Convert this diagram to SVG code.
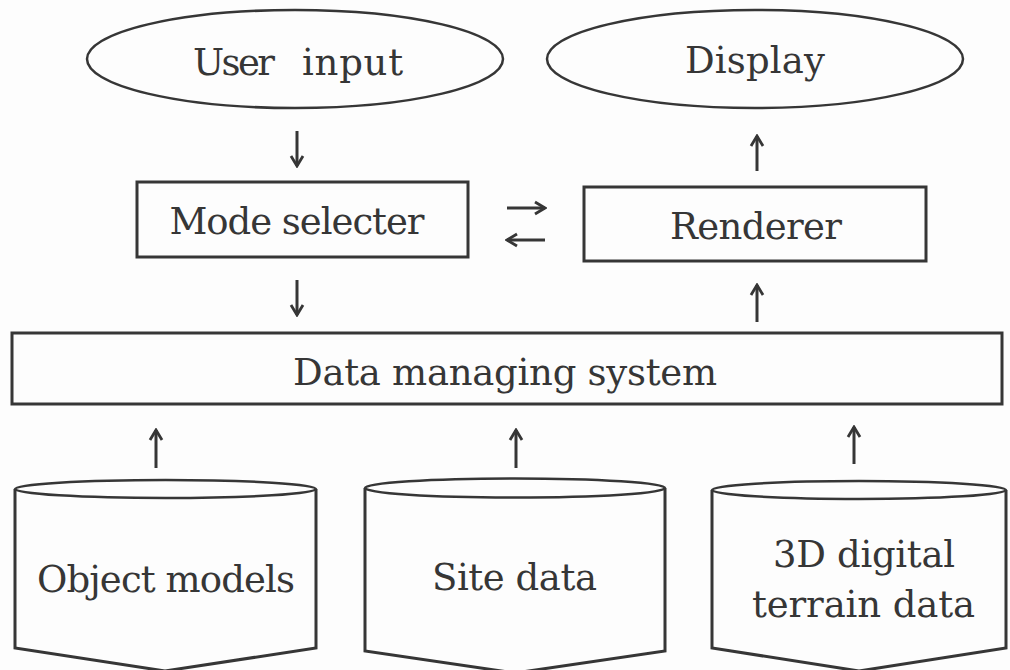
<svg xmlns="http://www.w3.org/2000/svg" width="1010" height="670" viewBox="0 0 1010 670">
<defs>
<style>
.sh{fill:none;stroke:#363636;stroke-width:3}
.el{fill:none;stroke:#363636;stroke-width:2.5}
.tx{font-family:"DejaVu Serif","Liberation Serif",serif;font-size:37px;fill:#363636;text-anchor:middle}
.st{text-anchor:start}
.ar{stroke:#363636;stroke-width:3;fill:none;marker-end:url(#head)}
</style>
<marker id="head" markerUnits="userSpaceOnUse" viewBox="-12 -8 14 16" markerWidth="14" markerHeight="16" refX="0" refY="0" orient="auto">
<path d="M-10,-6 L0,0 L-10,6" fill="none" stroke="#363636" stroke-width="2.8" stroke-linejoin="miter"/>
</marker>
</defs>
<rect width="1010" height="670" fill="#fdfdfd"/>
<g id="user-input">
<ellipse class="el" cx="295" cy="59" rx="208" ry="49"/>
<text class="tx st" y="75"><tspan x="193" textLength="82" lengthAdjust="spacing">User</tspan> <tspan x="302" textLength="101" lengthAdjust="spacing">input</tspan></text>
</g>
<g id="display">
<ellipse class="el" cx="755" cy="59" rx="208" ry="49"/>
<text class="tx" x="755" y="73" textLength="140" lengthAdjust="spacing">Display</text>
</g>
<g id="mode-selecter">
<rect class="sh" x="137" y="182" width="331" height="75"/>
<text class="tx" x="297" y="234" textLength="255" lengthAdjust="spacing">Mode selecter</text>
</g>
<g id="renderer">
<rect class="sh" x="584" y="187" width="342" height="74"/>
<text class="tx" x="756" y="239" textLength="172" lengthAdjust="spacing">Renderer</text>
</g>
<g id="data-managing-system">
<rect class="sh" x="12" y="333" width="990" height="71"/>
<text class="tx" x="505" y="385" textLength="424" lengthAdjust="spacing">Data managing system</text>
</g>
<g id="object-models">
<path class="sh" d="M15,489 L15,648 L165,671 L316,648 L316,489"/>
<ellipse class="el" cx="165.5" cy="489" rx="150.5" ry="9"/>
<text class="tx" x="166" y="592" textLength="258" lengthAdjust="spacing">Object models</text>
</g>
<g id="site-data">
<path class="sh" d="M365,488 L365,651 L515,673 L665,651 L665,488"/>
<ellipse class="el" cx="515" cy="488" rx="150" ry="9.5"/>
<text class="tx" x="514.5" y="590" textLength="165" lengthAdjust="spacing">Site data</text>
</g>
<g id="terrain-data">
<path class="sh" d="M712,490 L712,648 L859,671 L1006,648 L1006,490"/>
<ellipse class="el" cx="859" cy="490" rx="147" ry="9"/>
<text class="tx" x="864" y="567" textLength="182" lengthAdjust="spacing">3D digital</text>
<text class="tx" x="863.5" y="617" textLength="223" lengthAdjust="spacing">terrain data</text>
</g>
<g id="connectors">
<line class="ar" x1="297" y1="131" x2="297" y2="166"/>
<line class="ar" x1="757" y1="171" x2="757" y2="136"/>
<line class="ar" x1="507" y1="208" x2="545" y2="208"/>
<line class="ar" x1="545" y1="240" x2="507" y2="240"/>
<line class="ar" x1="297" y1="280" x2="297" y2="315"/>
<line class="ar" x1="757" y1="322" x2="757" y2="285"/>
<line class="ar" x1="156" y1="468" x2="156" y2="430"/>
<line class="ar" x1="516" y1="468" x2="516" y2="430"/>
<line class="ar" x1="854" y1="464" x2="854" y2="427"/>
</g>
</svg>
